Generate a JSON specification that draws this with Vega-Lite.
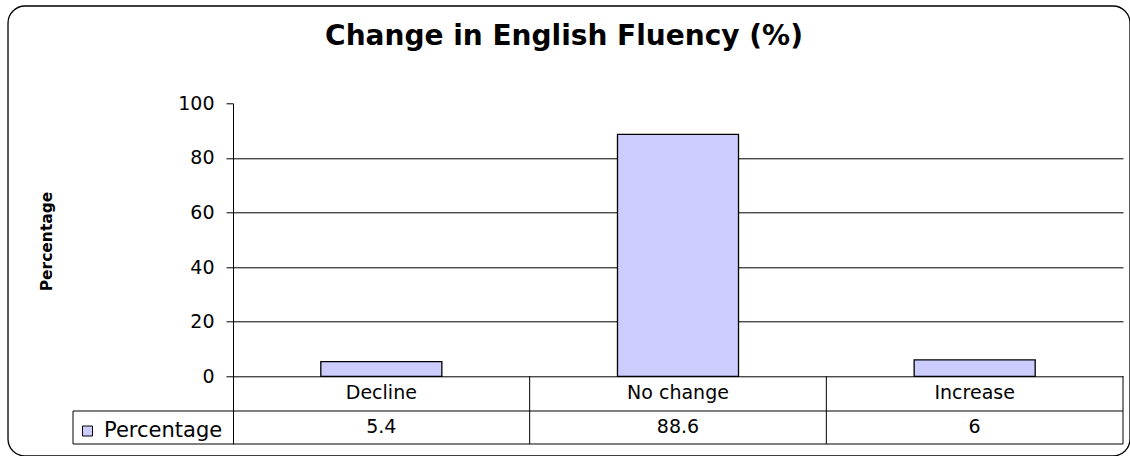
{
  "$schema": "https://vega.github.io/schema/vega-lite/v6.json",
  "width": 890,
  "height": 340.7,
  "autosize": {"type": "none"},
  "padding": {"left": 233, "top": 103.3, "right": 7, "bottom": 12},
  "background": "white",
  "config": {
    "view": {"stroke": null},
    "font": "DejaVu Sans"
  },
  "title": {
    "text": "Change in English Fluency (%)",
    "font": "DejaVu Sans",
    "fontSize": 28,
    "fontWeight": "bold",
    "color": "black",
    "anchor": "middle",
    "frame": "group",
    "baseline": "alphabetic",
    "offset": -67.6,
    "dx": -114
  },
  "data": {
    "values": [
      {"category": "Decline", "percentage": 5.4},
      {"category": "No change", "percentage": 88.6},
      {"category": "Increase", "percentage": 6}
    ]
  },
  "layer": [
    {
      "data": {"values": [{}]},
      "mark": {"type": "rect", "fill": "transparent", "fillOpacity": 0, "stroke": "black", "strokeWidth": 1.3, "cornerRadius": 17},
      "encoding": {
        "x": {"datum": "Decline", "type": "nominal", "bandPosition": -0.7584, "axis": null},
        "x2": {"datum": "Increase", "bandPosition": 1.0236},
        "y": {"datum": 135.64, "type": "quantitative"},
        "y2": {"datum": -29.19}
      }
    },
    {
      "mark": {"type": "bar", "stroke": "black", "strokeWidth": 1.3, "width": {"band": 0.408}},
      "encoding": {
        "x": {
          "field": "category",
          "type": "nominal",
          "sort": null,
          "scale": {"domain": ["Decline", "No change", "Increase"], "paddingInner": 0, "paddingOuter": 0},
          "axis": null
        },
        "y": {
          "field": "percentage",
          "type": "quantitative",
          "scale": {"domain": [-24.8, 100], "nice": false},
          "axis": {
            "orient": "left",
            "values": [0, 20, 40, 60, 80, 100],
            "domain": true,
            "domainColor": "black",
            "domainWidth": 1,
            "ticks": true,
            "tickSize": 7,
            "tickColor": "black",
            "tickWidth": 1,
            "labelFont": "DejaVu Sans",
            "labelFontSize": 19,
            "labelColor": "black",
            "labelPadding": 12,
            "grid": true,
            "gridColor": "black",
            "gridWidth": 1,
            "gridOpacity": {"condition": {"test": "datum.value === 100", "value": 0}, "value": 1},
            "title": "Percentage",
            "titleFont": "DejaVu Sans",
            "titleFontSize": 15.5,
            "titleFontWeight": "bold",
            "titleColor": "black",
            "titlePadding": 123,
            "titleY": 137.7
          }
        },
        "fill": {
          "datum": "Percentage",
          "type": "nominal",
          "scale": {"range": ["#CCCCFF"]},
          "legend": {
            "orient": "none",
            "legendX": -156,
            "legendY": 317.2,
            "title": null,
            "padding": 0,
            "symbolType": "square",
            "symbolSize": 100,
            "symbolStrokeColor": "black",
            "symbolStrokeWidth": 1,
            "labelFont": "DejaVu Sans",
            "labelFontSize": 21,
            "labelColor": "black",
            "labelOffset": 6,
            "labelLimit": 300
          }
        }
      }
    },
    {
      "mark": {"type": "text", "font": "DejaVu Sans", "fontSize": 19, "color": "black", "baseline": "middle"},
      "encoding": {
        "x": {"field": "category", "type": "nominal", "axis": null},
        "y": {"datum": -6.3, "type": "quantitative"},
        "text": {"field": "category"}
      }
    },
    {
      "mark": {"type": "text", "font": "DejaVu Sans", "fontSize": 19, "color": "black", "baseline": "middle"},
      "encoding": {
        "x": {"field": "category", "type": "nominal", "axis": null},
        "y": {"datum": -18.75, "type": "quantitative"},
        "text": {"field": "percentage", "type": "quantitative"}
      }
    },
    {
      "mark": {"type": "rule", "color": "black", "strokeWidth": 1},
      "encoding": {
        "x": {"field": "category", "type": "nominal", "bandPosition": 1, "axis": null},
        "y": {"datum": 0, "type": "quantitative"},
        "y2": {"datum": -24.8}
      }
    },
    {
      "data": {"values": [{}]},
      "mark": {"type": "rule", "color": "black", "strokeWidth": 1},
      "encoding": {
        "x": {"datum": "Decline", "type": "nominal", "bandPosition": -0.5393, "axis": null},
        "y": {"datum": -12.71, "type": "quantitative"},
        "y2": {"datum": -24.8}
      }
    },
    {
      "data": {"values": [{}]},
      "mark": {"type": "rule", "color": "black", "strokeWidth": 1},
      "encoding": {
        "x": {"datum": "Decline", "type": "nominal", "bandPosition": -0.5393, "axis": null},
        "x2": {"datum": "Increase", "bandPosition": 1},
        "y": {"datum": -12.71, "type": "quantitative"}
      }
    },
    {
      "data": {"values": [{}]},
      "mark": {"type": "rule", "color": "black", "strokeWidth": 1},
      "encoding": {
        "x": {"datum": "Decline", "type": "nominal", "bandPosition": -0.5393, "axis": null},
        "x2": {"datum": "Increase", "bandPosition": 1},
        "y": {"datum": -24.8, "type": "quantitative"}
      }
    }
  ]
}
